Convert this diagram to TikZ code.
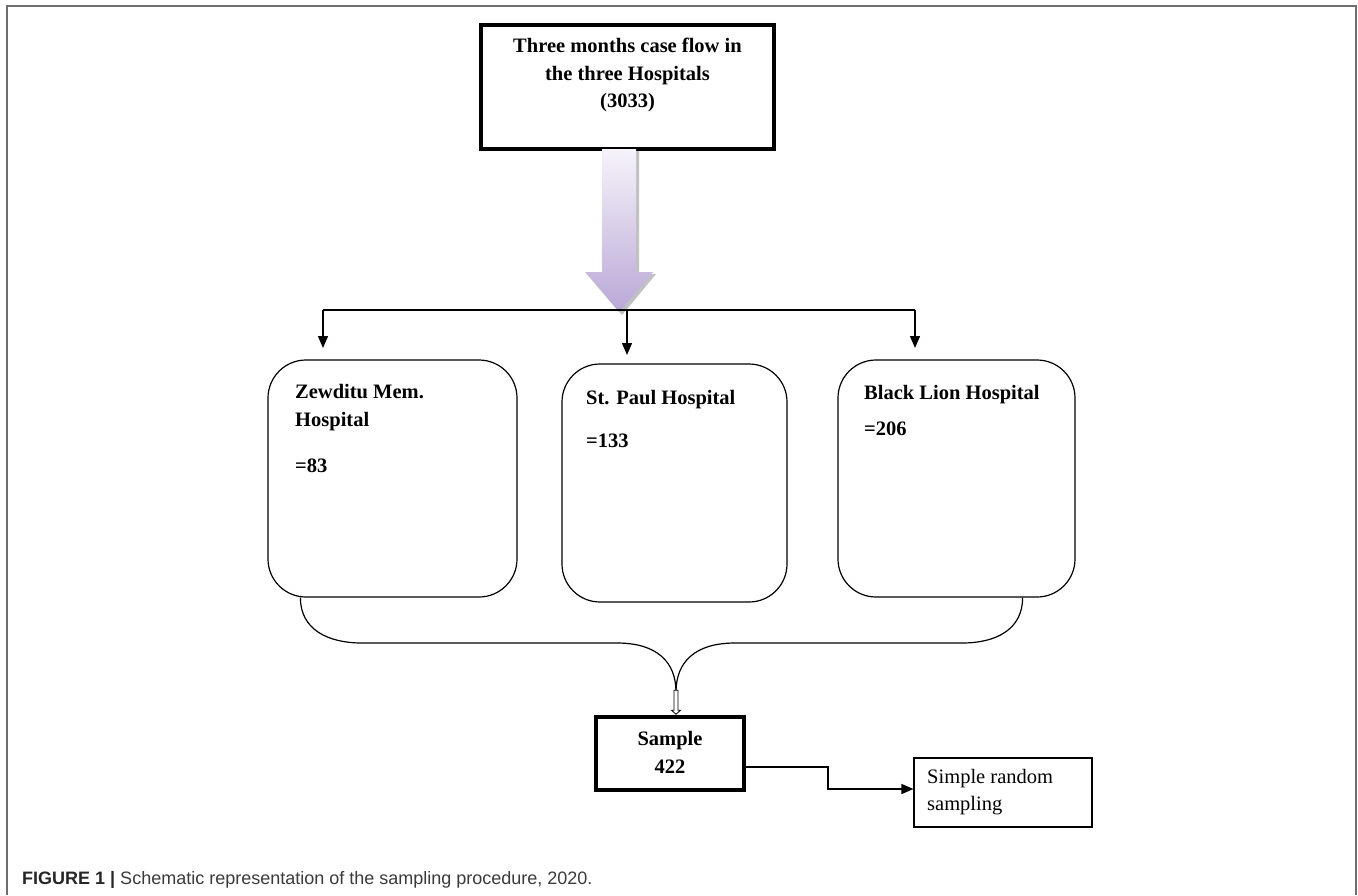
\documentclass[tikz,border=0pt]{standalone}
\usepackage{fontspec}
\setmainfont{Liberation Serif}
\newfontfamily\capfont{Liberation Sans}
\usetikzlibrary{arrows.meta,calc}
\definecolor{lavtop}{HTML}{F6F3FA}
\definecolor{lavbot}{HTML}{B9A8D6}
\definecolor{framegray}{HTML}{6E6E6E}
\definecolor{captxt}{HTML}{3A3A3A}
\begin{document}
\begin{tikzpicture}[x=1pt,y=-1pt,
  thinline/.style={line width=1.3pt, draw=black},
  boldbox/.style={draw, line width=3.6pt, fill=white, inner sep=0pt},
  hosp/.style={draw, line width=1.2pt, rounded corners=38pt, inner sep=0pt},
  plainbox/.style={draw, line width=1.1pt, inner sep=0pt},
  boldtxt/.style={inner sep=0pt, font=\fontsize{20.5}{24}\selectfont\bfseries},
  regtxt/.style={inner sep=0pt, font=\fontsize{20.5}{24}\selectfont},
  tri/.style={-{Triangle[width=10pt,length=12pt]}},
]
\useasboundingbox (0,0) rectangle (1358,895);

% frame (open at bottom)
\draw[framegray, line width=2pt] (7,895) -- (7,6) -- (1356,6) -- (1356,895);

% top box
\node[boldbox, minimum width=293pt, minimum height=124pt] (top) at (627.5,87) {};
\node[boldtxt, anchor=base] (t1) at (627.5,52) {Three months case flow in};
\node[boldtxt, anchor=base] (t2) at (627.5,80) {the three Hospitals};
\node[boldtxt, anchor=base] (t3) at (627.5,107) {(3033)};

% big block arrow
\coordinate (tip) at (619,312);
\fill[gray!70, opacity=0.7] (605,151) -- (639,151) -- (639,274) -- (656,274) -- (622,315) -- (588,274) -- (605,274) -- cycle;
\shade[top color=lavtop, bottom color=lavbot] (602,149) -- (636,149) -- (636,272) -- (653,272) -- (tip) -- (585,272) -- (602,272) -- cycle;

% fork
\coordinate (fork) at (627,310);
\coordinate (fl) at (323,310);
\coordinate (fr) at (915,310);
\coordinate (al) at (323,348);
\coordinate (am) at (627,355);
\coordinate (ar) at (915,348);
\draw[thinline] (fl) -- (fr);
\draw[thinline, tri] (fl) -- (al);
\draw[thinline, tri] (fork) -- (am);
\draw[thinline, tri] (fr) -- (ar);

% hospital boxes
\node[hosp, minimum width=249pt, minimum height=237pt] (zb) at (392.5,478.5) {};
\node[hosp, minimum width=225pt, minimum height=238pt] (sp) at (674.5,483) {};
\node[hosp, minimum width=237pt, minimum height=237pt] (bl) at (956.5,478.5) {};

\node[boldtxt, anchor=base west] (zb1) at (295,398) {Zewditu Mem.};
\node[boldtxt, anchor=base west] (zb2) at (295,426) {Hospital};
\node[boldtxt, anchor=base west] (zb3) at (295,472) {=83};
\node[boldtxt, anchor=base west] (sp1) at (586,404) {St. Paul Hospital};
\node[boldtxt, anchor=base west] (sp2) at (586,447) {=133};
\node[boldtxt, anchor=base west] (bl1) at (864,399) {Black Lion Hospital};
\node[boldtxt, anchor=base west] (bl2) at (864,435) {=206};

% sample box
\node[boldbox, minimum width=148pt, minimum height=73pt] (sample) at (670,753.5) {};
\node[boldtxt, anchor=base] (s1) at (670,745) {Sample};
\node[boldtxt, anchor=base] (s2) at (670,773) {422};

% merging brace
\coordinate (meet) at (676,692);
\draw[thinline, line width=1.2pt] ($(zb.south west)+(33,0)$) .. controls ++(0,32) and ++(-34,0) .. (362,643) -- (617,643) .. controls ++(40,0) and ++(0,-30) .. (meet);
\draw[thinline, line width=1.2pt] ($(bl.south east)+(-53,0)$) .. controls ++(0,32) and ++(34,0) .. (962,643) -- (735,643) .. controls ++(-40,0) and ++(0,-30) .. (meet);

% small hollow arrow
\draw[line width=0.8pt, fill=white] ($(sample.north)+(4,-25)$) -- ($(sample.north)+(4,-5)$) -- ($(sample.north)+(1.5,-5)$) -- ($(sample.north)+(6,-1)$) -- ($(sample.north)+(10.5,-5)$) -- ($(sample.north)+(8,-5)$) -- ($(sample.north)+(8,-25)$) -- cycle;

% simple random sampling box
\node[plainbox, minimum width=178pt, minimum height=69pt] (srs) at (1003,792.5) {};
\node[regtxt, anchor=base west] (srs1) at (927,783) {Simple random};
\node[regtxt, anchor=base west] (srs2) at (927,810) {sampling};
\draw[thinline, tri] ($(sample.east)+(0,13.5)$) -| (828,789) -- ($(srs.west)+(0,-3.5)$);

% caption
\node[anchor=base west, inner sep=0pt, text=captxt, font=\capfont\fontsize{18}{20}\selectfont] (cap) at (22,884)
  {\textcolor{black!85}{\textbf{FIGURE 1 |}} Schematic representation of the sampling procedure, 2020.};
\end{tikzpicture}
\end{document}
